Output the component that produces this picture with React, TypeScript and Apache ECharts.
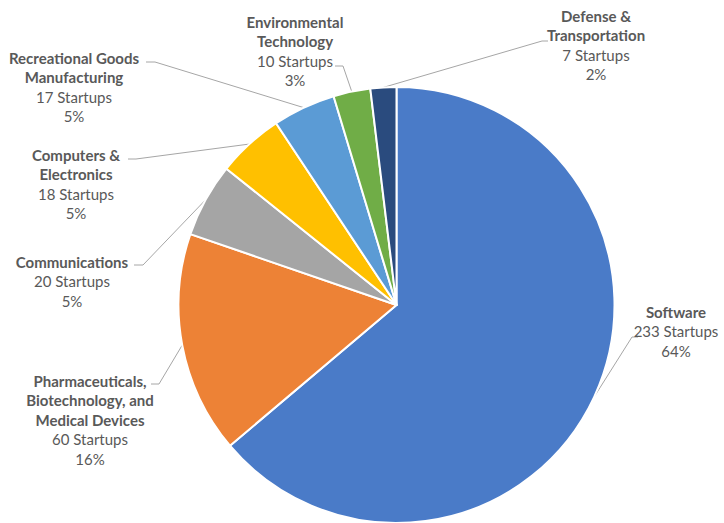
import React, { useEffect, useRef } from "react";
import * as echarts from "echarts";

const categories = [
  "Software",
  "Pharmaceuticals,\nBiotechnology, and\nMedical Devices",
  "Communications",
  "Computers &\nElectronics",
  "Recreational Goods\nManufacturing",
  "Environmental\nTechnology",
  "Defense &\nTransportation",
];
const startups = [233, 60, 20, 18, 17, 10, 7];
const colors = ["#4A7BC8", "#ED8236", "#A5A5A5", "#FFC000", "#5B9BD5", "#70AD47", "#2A4B7E"];

// label layout: [labelCenterX, labelTopY, elbowX, elbowY, endX]
const labelPlacement: number[][] = [
  [676, 302, 632, 337, 638],
  [90, 371, 159, 384, 151],
  [72, 252, 143, 265, 134],
  [76, 145, 136, 159, 128],
  [74, 48, 155, 62, 146],
  [295, 12, 343, 66, 335],
  [596, 6, 542, 41, 548],
];

export default function App() {
  const ref = useRef<HTMLDivElement>(null);
  useEffect(() => {
    document.body.style.margin = "0";
    const chart = echarts.init(ref.current!, null, { renderer: "svg" });
    const total = startups.reduce((a, b) => a + b, 0);
    const cx = 396.5, cy = 305, r = 218;
    let cum = 0;
    const mids = startups.map((v) => {
      const m = ((cum + v / 2) / total) * Math.PI * 2;
      cum += v;
      return m;
    });
    chart.setOption({
      animation: false,
      color: colors,
      textStyle: { fontFamily: "Lato" },
      series: [
        {
          type: "pie",
          center: [cx, cy],
          radius: r,
          startAngle: 90,
          clockwise: true,
          itemStyle: { borderColor: "#fff", borderWidth: 2 },
          label: {
            show: true,
            position: "outside",
            color: "#595959",
            fontFamily: "Lato",
            formatter: (p: any) => {
              const names = String(p.name)
                .split("\n")
                .map((s: string) => `{b|${s}}`)
                .join("\n");
              const pct = Math.round((p.value / total) * 100);
              return `${names}\n{v|${p.value} Startups}\n{v|${pct}%}`;
            },
            rich: {
              b: { fontWeight: "bold", fontSize: 15, color: "#595959", lineHeight: 19.5, fontFamily: "Lato" },
              v: { fontSize: 15, color: "#595959", lineHeight: 19.5, fontFamily: "Lato" },
            },
          },
          labelLine: {
            show: true,
            length: 10,
            length2: 10,
            lineStyle: { color: "#A6A6A6", width: 1 },
          },
          labelLayout: (params: any) => {
            const i = params.dataIndex;
            const pl = labelPlacement[i];
            const a = mids[i];
            const start = [cx + r * Math.sin(a), cy - r * Math.cos(a)];
            return {
              x: pl[0],
              y: pl[1],
              align: "center",
              verticalAlign: "top",
              labelLinePoints: [start, [pl[2], pl[3]], [pl[4], pl[3]]],
            };
          },
          data: categories.map((name, i) => ({ name, value: startups[i] })),
        },
      ],
    });
    return () => chart.dispose();
  }, []);
  return <div ref={ref} style={{ width: 724, height: 523 }} />;
}
